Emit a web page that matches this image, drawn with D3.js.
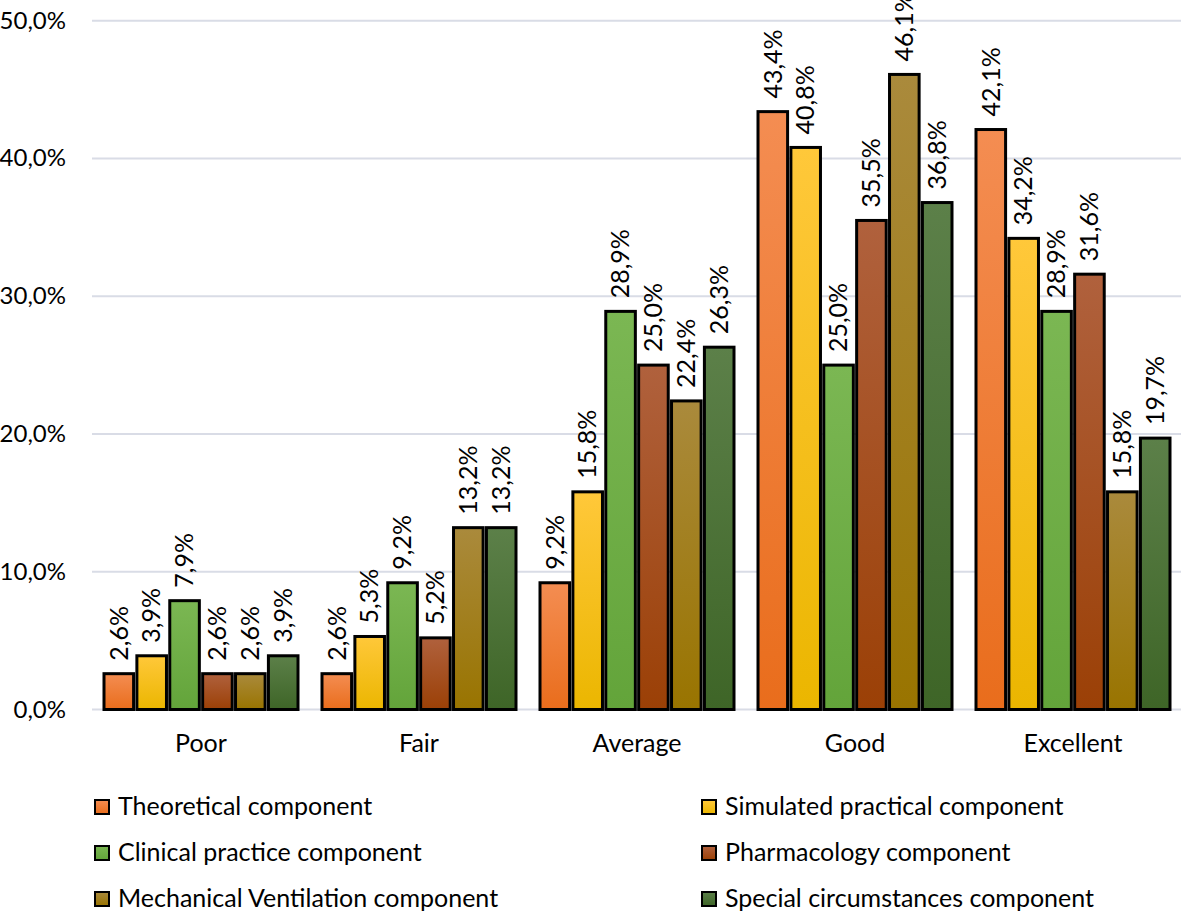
<!DOCTYPE html>
<html lang="en">
<head>
  <meta charset="utf-8">
  <title>Component ratings</title>
  <script src="https://d3js.org/d3.v7.min.js"></script>
  <style>
    body { margin: 0; background: #fff; }
    text { font-family: Lato, "Open Sans", sans-serif; fill: #000; }
  </style>
</head>
<body>
<svg id="chart" width="1181" height="912"></svg>
<script>
  // ratings along the x axis
  const categories = ['Poor', 'Fair', 'Average', 'Good', 'Excellent'];
  const seriesNames = [
    'Theoretical component',
    'Simulated practical component',
    'Clinical practice component',
    'Pharmacology component',
    'Mechanical Ventilation component',
    'Special circumstances component'
  ];
  // percentages, one array per component (Poor..Excellent)
  const theoretical = [2.6, 2.6, 9.2, 43.4, 42.1];
  const simulated = [3.9, 5.3, 15.8, 40.8, 34.2];
  const clinical = [7.9, 9.2, 28.9, 25.0, 28.9];
  const pharmacology = [2.6, 5.2, 25.0, 35.5, 31.6];
  const mechanical = [2.6, 13.2, 22.4, 46.1, 15.8];
  const special = [3.9, 13.2, 26.3, 36.8, 19.7];
  const yTicks = [0, 10, 20, 30, 40, 50];

  const seriesValues = [theoretical, simulated, clinical, pharmacology, mechanical, special];

  // top / bottom colours of the gradient fills
  const colorTop = ['#f48d52', '#ffc83a', '#7bb753', '#b0613d', '#aa8a3c', '#5c8049'];
  const colorBot = ['#e96d1c', '#ebb600', '#63a43a', '#9b4006', '#997400', '#3e6527'];

  const svg = d3.select('#chart');
  const fmt = v => v.toFixed(1).replace('.', ',') + '%';

  const x = d3.scaleBand().domain(categories).range([92, 1182]);
  const xs = d3.scaleBand().domain(d3.range(seriesNames.length))
    .range([12, 206]).paddingInner(0.1);
  const y = d3.scaleLinear().domain([0, 50]).range([709.5, 20.7]);

  //gradients
  const defs = svg.append('defs');
  seriesNames.forEach((s, i) => {
    const g = defs.append('linearGradient').attr('id', 'g' + i)
      .attr('x1', 0).attr('y1', 0).attr('x2', 0).attr('y2', 1);
    g.append('stop').attr('offset', '0%').attr('stop-color', colorTop[i]);
    g.append('stop').attr('offset', '100%').attr('stop-color', colorBot[i]);
  });

  // gridlines + y labels
  svg.append('g').selectAll('line').data(yTicks).join('line')
    .attr('x1', 92).attr('x2', 1181)
    .attr('y1', d => y(d)).attr('y2', d => y(d))
    .attr('stroke', '#d9dce6').attr('stroke-width', 2);

  svg.append('g').selectAll('text').data(yTicks).join('text')
    .attr('x', 66).attr('y', d => y(d) + 8)
    .attr('text-anchor', 'end').style('font-size', '24px')
    .text(d => d.toFixed(1).replace('.', ',') + '%');

  // bars
  const groups = svg.append('g').selectAll('g').data(seriesValues).join('g');
  groups.each(function (vals, si) {
    const g = d3.select(this);
    g.selectAll('rect').data(vals).join('rect')
      .attr('x', (d, ci) => x(categories[ci]) + xs(si))
      .attr('y', d => y(d))
      .attr('width', xs.bandwidth())
      .attr('height', d => y(0) - y(d))
      .attr('fill', `url(#g${si})`)
      .attr('stroke', '#000').attr('stroke-width', 3);

    g.selectAll('text').data(vals).join('text')
      .attr('transform', (d, ci) => {
        const cx = x(categories[ci]) + xs(si) + xs.bandwidth() / 2;
        return `translate(${cx},${y(d) - 13}) rotate(-90)`;
      })
      .attr('dy', '0.35em')
      .style('font-size', '25px')
      .text(d => fmt(d));
  });

  // x labels
  svg.append('g').selectAll('text').data(categories).join('text')
    .attr('x', d => x(d) + x.bandwidth() / 2).attr('y', 752)
    .attr('text-anchor', 'middle').style('font-size', '25px')
    .text(d => d);

  // legend: two columns, three rows
  const leg = svg.append('g').selectAll('g').data(seriesNames).join('g')
    .attr('transform', (d, i) => `translate(${i % 2 ? 702 : 95},${800 + Math.floor(i / 2) * 46})`);
  leg.append('rect').attr('width', 14).attr('height', 14)
    .attr('fill', (d, i) => `url(#g${i})`)
    .attr('stroke', '#000').attr('stroke-width', 2);
  leg.append('text').attr('x', 23).attr('y', 15)
    .style('font-size', '25px').text(d => d);
</script>
</body>
</html>
